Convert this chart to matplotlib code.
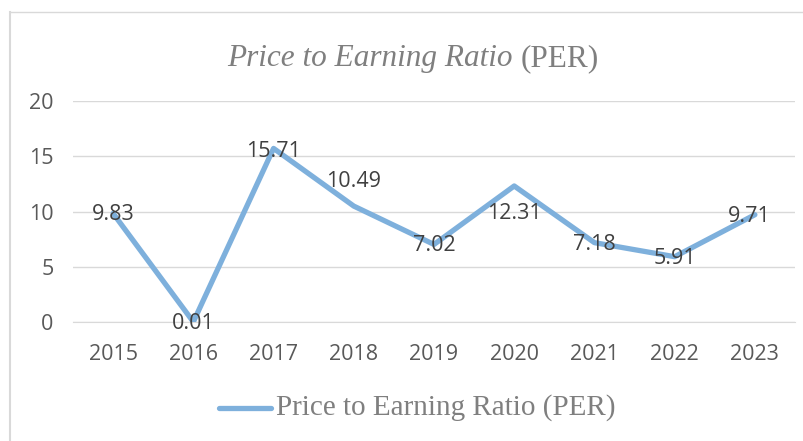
import matplotlib
matplotlib.use("Agg")
import matplotlib.pyplot as plt
from matplotlib.lines import Line2D

years = ["2015", "2016", "2017", "2018", "2019", "2020", "2021", "2022", "2023"]
per = [9.83, 0.01, 15.71, 10.49, 7.02, 12.31, 7.18, 5.91, 9.71]
label_offsets = [(0, -1), (0, -1), (0, -2), (0, 18), (0, -1), (0, -20), (0, -1), (0, -1), (-4, -1)]
yticks = [0, 5, 10, 15, 20]

fig = plt.figure(figsize=(8.04, 4.41), dpi=100)
fig.patch.set_facecolor("white")

# chart border
fig.add_artist(Line2D([10/804, 10/804], [0, 1 - 12/441], transform=fig.transFigure,
                      color="#d9d9d9", lw=1.5))
fig.add_artist(Line2D([10/804, 1], [1 - 12/441, 1 - 12/441], transform=fig.transFigure,
                      color="#d9d9d9", lw=1.0))

ax = fig.add_axes([73/804, 1 - 322/441, (795 - 73)/804, (322 - 101)/441])
x = list(range(len(years)))
ax.plot(x, per, color="#7eb0dc", lw=3.8, solid_capstyle="round", solid_joinstyle="round",
        zorder=3)
ax.set_xlim(-0.5, len(years) - 0.5)
ax.set_ylim(0, 20)
ax.set_yticks(yticks)
ax.set_xticks(x)
ax.set_xticklabels(years)
ax.grid(axis="y", color="#d9d9d9", lw=1.0)
ax.set_axisbelow(True)
for s in ax.spines.values():
    s.set_visible(False)
ax.spines["bottom"].set_visible(True)
ax.spines["bottom"].set_color("#d9d9d9")
ax.tick_params(axis="both", length=0, labelsize=15.5, labelcolor="#595959")
ax.tick_params(axis="y", pad=14)
ax.tick_params(axis="x", pad=16)
for lab in ax.get_xticklabels() + ax.get_yticklabels():
    lab.set_family("Open Sans")

for i, (v, off) in enumerate(zip(per, label_offsets)):
    ax.annotate(f"{v:.2f}", (i, v), xytext=off, textcoords="offset points",
                ha="center", va="center", fontsize=15.5, color="#404040",
                family="Open Sans", zorder=4, annotation_clip=False)

# title
t1 = fig.text(0, 0, "Price to Earning Ratio ", family="Liberation Serif", style="italic",
              fontsize=22.5, color="#7f7f7f")
t2 = fig.text(0, 0, "(PER)", family="Liberation Serif", fontsize=22.5, color="#7f7f7f")
fig.canvas.draw()
r = fig.canvas.get_renderer()
w1 = t1.get_window_extent(r).width
w2 = t2.get_window_extent(r).width
left = 413 - (w1 + w2) / 2
t1.set_position((left / 804, 1 - 66/441))
t2.set_position(((left + w1) / 804, 1 - 66/441))

# legend
fig.add_artist(Line2D([219/804, 271/804], [1 - 408/441, 1 - 408/441], transform=fig.transFigure,
                      color="#7eb0dc", lw=3.8, solid_capstyle="round"))
fig.text(276/804, 1 - 408/441, "Price to Earning Ratio (PER)", family="Liberation Serif",
         fontsize=21, color="#7f7f7f", va="center", ha="left")

fig.savefig("out.png", dpi=100, facecolor="white")
